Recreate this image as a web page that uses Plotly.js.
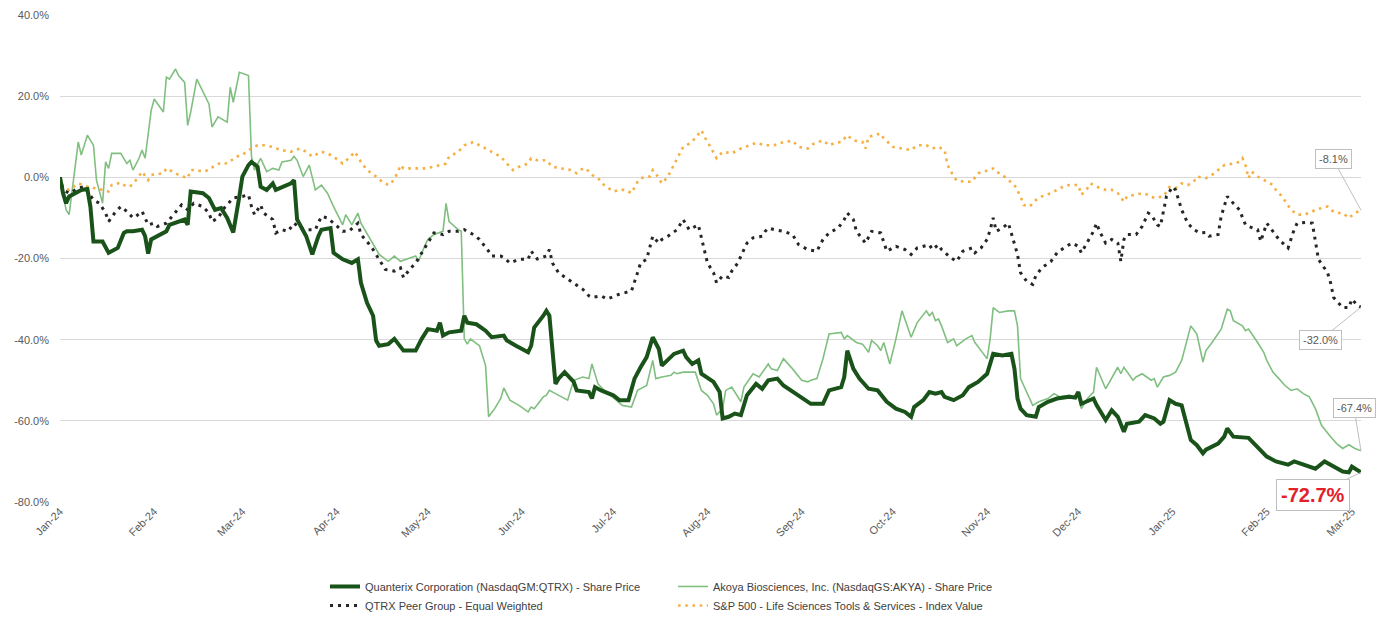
<!DOCTYPE html>
<html>
<head>
<meta charset="utf-8">
<script src="https://cdn.plot.ly/plotly-3.0.1.min.js"></script>
<style>
  html, body { margin: 0; padding: 0; background: #ffffff; }
  #chart { width: 1393px; height: 623px; }
</style>
</head>
<body>
<div id="chart"></div>
<script>
// ---------- DATA ----------
// x values are calendar days after START_DATE; y values are % change
const START_DATE = '2024-01-02';
const END_DAY = 428;

const seriesNames = [
  'Quanterix Corporation (NasdaqGM:QTRX) - Share Price',
  'Akoya Biosciences, Inc. (NasdaqGS:AKYA) - Share Price',
  'QTRX Peer Group - Equal Weighted',
  'S&P 500 - Life Sciences Tools & Services - Index Value'
];

const yTickVals = [-80, -60, -40, -20, 0, 20, 40];
const yTickText = ['-80.0%', '-60.0%', '-40.0%', '-20.0%', '0.0%', '20.0%', '40.0%'];

const qtrxDays = [0,1,2,3,5,7,9,10,11,14,16,19,21,22,24,27,28,29,30,32,35,36,39,41,42,43,47,49,51,53,55,57,59,60,62,63,65,66,68,70,71,76,77,78,81,83,85,86,89,90,93,96,98,99,101,103,104,105,108,110,113,117,119,121,124,125,126,128,132,133,134,137,140,142,146,147,150,154,155,156,159,160,161,163,164,166,169,170,174,175,176,178,182,184,187,189,191,193,195,197,198,200,202,205,206,208,210,211,215,217,218,220,222,224,226,229,231,233,236,238,242,244,247,251,253,257,258,259,261,263,266,269,272,275,278,280,281,284,286,288,290,291,293,294,297,299,302,305,307,310,313,314,315,316,318,321,322,325,328,332,334,335,336,340,341,344,346,348,350,351,355,357,360,362,363,365,367,369,372,374,376,377,381,383,384,386,391,394,396,397,400,404,406,409,413,416,418,422,424,425,428];
const qtrxPct = [0,-3.9,-6.4,-4.7,-3.9,-3.1,-2.9,-7.2,-15.8,-15.8,-18.6,-17.4,-13.7,-13.3,-13.3,-12.9,-14.5,-18.8,-15.3,-14.5,-13.3,-11.7,-10.9,-10.4,-11.7,-3.5,-3.9,-5.1,-8.0,-7.6,-10.0,-13.6,-4.7,0.2,3.0,3.8,2.6,-2.3,-3.1,-1.5,-3.1,-1.5,-0.7,-10.4,-14.5,-19.0,-14.5,-12.9,-12.5,-18.6,-20.2,-21.1,-20.2,-26.0,-30.9,-34.1,-40.2,-41.5,-41.1,-39.8,-42.7,-42.7,-39.8,-37.4,-37.8,-35.8,-39.0,-38.2,-37.8,-34.1,-35.8,-36.2,-37.8,-39.4,-39.0,-40.2,-41.5,-43.1,-41.5,-37.0,-34.1,-32.9,-34.1,-50.9,-49.6,-48.0,-50.4,-52.5,-52.9,-54.5,-51.7,-52.5,-53.7,-54.9,-54.9,-49.6,-46.8,-44.3,-39.4,-42.3,-46.4,-45.1,-43.5,-42.7,-44.3,-46.0,-45.1,-48.4,-50.4,-52.9,-59.4,-59.0,-58.2,-58.6,-53.7,-50.9,-52.1,-50.0,-49.6,-51.3,-53.3,-54.5,-55.8,-55.8,-52.5,-51.7,-49.2,-42.7,-47.2,-49.6,-52.1,-52.5,-55.3,-57.0,-57.8,-59.0,-56.6,-54.9,-52.9,-53.3,-52.9,-54.1,-54.5,-54.9,-53.7,-51.7,-50.4,-48.4,-43.5,-43.9,-43.5,-47.2,-54.5,-57.0,-58.6,-59.0,-56.6,-55.3,-54.5,-54.1,-54.3,-52.9,-55.8,-54.5,-56.1,-59.8,-57.4,-59.0,-62.7,-60.7,-60.2,-58.6,-59.4,-60.7,-60.2,-54.9,-55.8,-56.2,-64.7,-66.0,-68.0,-67.1,-65.6,-63.9,-61.9,-63.9,-64.2,-66.4,-68.0,-68.8,-70.0,-70.8,-70.0,-70.8,-71.8,-70.0,-70.8,-72.5,-72.7,-71.3,-72.7];

const akyaDays = [0,1,2,3,4,6,7,9,11,12,14,15,16,17,20,22,23,24,26,27,28,30,31,34,35,36,38,39,41,42,43,45,49,50,52,55,56,57,59,62,63,64,66,68,70,72,73,76,77,78,80,82,84,86,88,90,93,94,96,98,99,103,105,108,110,112,114,117,118,119,121,123,126,127,128,131,132,133,134,135,138,140,141,143,145,146,148,151,154,155,156,159,160,161,163,165,167,169,172,174,175,177,179,183,185,188,190,193,195,196,198,201,202,203,205,209,211,213,215,216,218,219,221,224,225,228,230,233,234,236,238,241,244,246,247,249,251,253,257,258,259,262,264,266,267,269,270,271,273,275,277,280,282,285,286,287,288,289,290,292,294,295,298,300,301,303,305,306,307,309,312,314,315,316,317,320,322,325,327,329,332,335,336,338,340,341,344,346,348,349,350,353,354,356,359,360,361,363,365,367,369,372,374,376,377,379,382,384,385,386,387,389,390,391,394,396,397,399,401,403,405,407,409,411,413,415,418,420,422,424,426,428];
const akyaPct = [0,-3.9,-8.0,-9.2,-3.1,8.7,5.5,10.4,7.9,-0.7,-6.4,3.8,2.2,5.9,5.9,3.4,4.2,1.8,4.7,6.7,4.7,16.5,19.3,16.1,24.7,24.2,26.7,25.1,23.4,12.8,16.1,24.2,18.1,12.4,14.9,13.6,22.2,18.5,25.9,25.1,5.1,1.8,4.7,1.4,2.2,1.8,3.8,4.2,5.2,4.2,0.2,3.0,-3.1,-1.9,-3.9,-7.2,-11.7,-9.2,-11.7,-8.8,-11.3,-16.2,-19.0,-20.7,-19.4,-20.7,-20.2,-19.4,-20.7,-18.6,-15.3,-14.1,-13.3,-6.4,-10.9,-12.9,-13.3,-39.8,-41.1,-39.8,-41.5,-46.4,-59.0,-57.0,-54.5,-51.9,-54.9,-56.2,-57.8,-56.6,-57.0,-54.1,-53.7,-52.5,-53.3,-54.1,-54.9,-50.0,-49.2,-49.6,-46.0,-50.9,-52.5,-54.9,-56.2,-56.6,-52.5,-51.3,-45.1,-49.6,-49.2,-48.8,-48.0,-48.4,-48.0,-48.0,-52.5,-53.7,-55.8,-58.6,-57.0,-52.5,-51.7,-55.3,-51.7,-48.4,-49.2,-46.0,-47.2,-47.6,-44.7,-47.2,-50.0,-50.4,-50.0,-49.6,-44.7,-38.6,-38.2,-39.8,-39.0,-40.7,-41.1,-43.1,-40.2,-41.5,-42.7,-40.7,-46.0,-39.8,-32.9,-39.4,-35.8,-32.9,-34.1,-33.3,-35.3,-34.9,-36.6,-40.7,-39.8,-41.5,-39.8,-39.0,-40.7,-42.7,-44.7,-39.8,-32.1,-33.3,-32.9,-32.9,-36.6,-49.6,-51.3,-56.2,-55.3,-54.5,-53.3,-54.1,-53.7,-54.1,-57.0,-54.5,-52.9,-46.8,-52.1,-49.6,-46.8,-48.4,-46.8,-50.0,-49.2,-48.4,-50.0,-49.6,-51.7,-49.2,-48.8,-48.0,-45.1,-36.6,-38.6,-45.5,-42.7,-40.7,-37.4,-32.5,-32.9,-35.3,-35.8,-36.6,-37.8,-37.4,-40.7,-43.1,-45.1,-48.0,-49.6,-51.3,-52.5,-52.1,-53.3,-54.1,-57.0,-61.1,-63.9,-65.6,-66.8,-65.9,-66.8,-67.4];

const peerDays = [0,1,3,6,8,11,13,15,16,18,20,22,24,25,27,28,29,31,32,35,36,38,40,42,44,47,49,50,52,54,55,57,60,62,63,64,66,67,70,71,73,75,77,79,81,84,86,88,90,93,95,98,99,101,103,105,107,110,112,113,115,117,119,121,123,126,128,131,133,136,138,141,142,145,146,148,151,154,155,157,160,161,162,164,168,172,174,175,178,180,184,188,190,191,193,195,197,198,200,203,205,207,210,212,213,215,216,218,220,221,223,224,225,226,228,231,232,233,235,238,241,243,246,249,251,253,256,258,259,261,262,265,267,270,272,275,278,280,282,286,287,289,290,293,295,297,300,301,303,305,306,307,308,310,312,313,315,316,318,320,321,323,326,328,331,333,335,336,338,340,341,342,344,346,348,349,350,351,354,356,358,359,361,362,364,366,367,369,371,373,375,377,378,381,382,384,386,388,390,391,394,395,397,399,401,404,406,407,410,412,413,414,417,418,419,422,424,425,427,428];
const peerPct = [0,-3.1,-3.9,-2.7,-2.3,-5.6,-6.4,-8.8,-10.9,-8.8,-7.2,-8.4,-10.0,-9.6,-8.4,-10.0,-11.7,-11.3,-12.1,-11.3,-10.4,-8.8,-6.8,-8.0,-6.4,-7.2,-8.8,-10.9,-10.0,-7.6,-6.8,-5.1,-4.7,-4.3,-7.2,-9.2,-6.8,-8.8,-10.4,-13.7,-12.9,-13.3,-11.3,-12.5,-12.9,-12.9,-9.6,-10.0,-11.3,-13.3,-13.3,-11.3,-14.1,-15.8,-17.8,-20.2,-22.7,-23.1,-22.3,-24.7,-22.7,-21.1,-18.6,-16.2,-13.7,-14.1,-13.3,-13.3,-12.9,-14.1,-15.3,-18.2,-19.4,-19.4,-19.8,-21.1,-20.2,-20.2,-18.2,-20.1,-19.4,-17.8,-21.1,-23.5,-25.6,-27.6,-29.2,-29.6,-29.2,-30.0,-28.8,-28.0,-23.5,-21.1,-20.2,-14.5,-16.2,-15.3,-14.5,-12.9,-10.4,-12.9,-11.7,-17.8,-21.1,-23.5,-26.0,-24.3,-24.7,-23.1,-21.1,-19.4,-17.8,-16.2,-14.9,-14.5,-13.3,-12.5,-12.9,-13.3,-14.1,-16.6,-17.8,-18.2,-15.3,-13.7,-12.5,-10.4,-8.8,-10.4,-13.3,-16.2,-13.3,-13.7,-18.2,-17.0,-17.8,-19.0,-17.4,-16.6,-17.8,-16.6,-17.8,-19.8,-20.7,-18.2,-17.4,-18.6,-17.4,-15.3,-12.9,-10.0,-13.3,-12.5,-11.3,-14.1,-19.0,-23.5,-25.6,-26.4,-24.3,-22.3,-20.7,-18.6,-17.0,-16.2,-17.0,-18.6,-15.8,-13.3,-11.3,-13.3,-16.2,-15.3,-16.2,-20.7,-15.3,-14.1,-14.1,-12.1,-8.8,-9.2,-11.7,-12.1,-4.7,-2.3,-3.1,-8.0,-11.3,-12.9,-13.7,-13.6,-14.5,-14.1,-9.6,-4.7,-6.4,-8.0,-11.7,-12.1,-12.9,-15.8,-11.3,-13.3,-15.3,-17.4,-12.9,-11.3,-11.1,-11.3,-16.2,-20.2,-23.5,-26.0,-29.6,-32.1,-32.1,-30.0,-31.7,-32.0];

const spDays = [0,1,3,6,9,12,14,16,17,20,21,23,25,27,29,30,34,35,37,39,42,43,45,47,49,51,53,55,58,60,62,65,67,70,71,73,76,77,79,81,83,86,88,90,93,95,97,99,101,104,106,108,109,111,112,113,117,120,123,127,128,131,133,136,138,141,144,145,147,149,151,154,155,157,160,162,165,168,170,172,173,175,177,179,182,184,186,188,190,191,194,195,196,198,200,202,205,207,209,211,212,214,216,218,221,224,226,229,232,235,238,241,243,246,248,251,253,255,257,259,261,264,265,266,268,270,271,274,277,280,282,285,287,289,291,292,294,295,298,300,302,304,307,308,310,312,314,316,317,319,321,323,326,328,330,332,335,336,338,339,341,344,346,348,350,351,354,356,358,360,363,364,365,367,369,371,373,374,377,379,381,383,386,388,389,390,391,392,394,397,399,400,402,405,407,409,411,413,415,417,418,420,422,424,426,428];
const spPct = [0,-2.3,-3.1,-1.5,-2.3,-2.7,-3.1,-3.5,-1.9,-1.3,-1.9,-2.3,-0.7,1.4,-0.7,0.6,1.0,2.2,1.4,0.6,-0.2,1.8,1.8,1.4,1.8,3.0,3.6,3.4,5.1,5.5,6.7,7.9,7.9,7.5,7.1,6.7,6.3,6.7,7.1,6.3,5.1,6.3,5.9,5.1,3.4,4.7,6.3,3.8,1.8,0.2,-1.1,-1.9,-1.5,1.0,3.0,2.2,2.2,2.2,2.6,3.4,5.1,6.3,7.9,8.7,7.9,6.7,5.5,5.1,3.4,1.8,2.6,3.4,4.7,4.2,4.2,2.6,2.2,1.8,1.0,2.2,2.2,0.6,-0.2,-1.9,-3.5,-3.1,-3.1,-3.9,-1.1,-0.2,0.2,1.8,1.0,-1.5,0.2,3.0,7.5,8.3,9.6,11.6,10.0,7.5,4.7,6.3,5.9,7.1,7.7,8.5,7.9,7.9,8.7,9.0,7.5,7.1,8.3,9.1,7.9,8.5,8.7,10.4,9.1,8.7,7.1,10.0,10.4,10.8,9.6,7.5,7.1,6.7,7.9,7.9,7.1,7.5,6.7,3.0,0.2,-0.8,-1.1,-1.1,1.0,1.4,2.2,1.4,0.6,-0.7,-1.9,-4.7,-6.8,-7.2,-5.6,-4.7,-3.9,-3.1,-2.3,-1.9,-1.9,-4.3,-2.7,-1.5,-2.3,-3.1,-3.1,-3.9,-6.0,-4.7,-4.3,-3.9,-4.3,-5.1,-4.7,-3.5,-2.4,-2.7,-1.5,-1.9,-1.1,0.2,-0.2,0.6,1.8,3.0,3.4,3.8,4.7,3.0,-0.2,1.4,0.2,-1.1,-1.9,-3.1,-4.7,-8.0,-9.2,-9.2,-8.8,-8.0,-7.6,-7.2,-8.0,-8.8,-8.8,-10.0,-8.8,-8.1];

const endLabels = ['-72.7%', '-67.4%', '-32.0%', '-8.1%'];
const endValues = [-72.7, -67.4, -32.0, -8.1];

// ---------- helpers ----------
const startMs = Date.parse(START_DATE + 'T00:00:00Z');
function toDate(d) {
  return new Date(startMs + d * 86400000).toISOString().slice(0, 10);
}
const endDate = toDate(END_DAY);

const FONT = 'Liberation Sans, Arial, sans-serif';

function mk(days, pct, idx, line, legendId) {
  const n = Math.min(days.length, pct.length);
  return {
    type: 'scatter', mode: 'lines',
    x: days.slice(0, n).map(toDate), y: pct.slice(0, n),
    name: seriesNames[idx], line: line,
    legend: legendId, legendgroup: 'g' + idx,
    hoverinfo: 'skip'
  };
}

const traces = [
  mk(akyaDays, akyaPct, 1, {color: '#80bf80', width: 1.6}, 'legend2'),
  mk(spDays, spPct, 3, {color: '#f4b042', width: 2.6, dash: '2.6px,4.6px'}, 'legend2'),
  mk(peerDays, peerPct, 2, {color: '#262626', width: 3, dash: '3px,5px'}, 'legend'),
  mk(qtrxDays, qtrxPct, 0, {color: '#1a531a', width: 4}, 'legend')
];
// legend ordering: Quanterix above Peer, Akoya above S&P
traces[3].legendrank = 1; traces[2].legendrank = 2;
traces[0].legendrank = 1; traces[1].legendrank = 2;

const boxStyle = {
  bordercolor: '#bfbfbf', borderwidth: 1, bgcolor: '#ffffff', borderpad: 3,
  showarrow: true, arrowhead: 0, arrowwidth: 1, arrowcolor: '#bfbfbf',
  xref: 'x', yref: 'y', axref: 'pixel', ayref: 'pixel'
};
const annotations = [
  Object.assign({}, boxStyle, {x: endDate, y: endValues[3], text: endLabels[3], ax: -28, ay: -51,
    font: {family: FONT, size: 11, color: '#595959'}}),
  Object.assign({}, boxStyle, {x: endDate, y: endValues[2], text: endLabels[2], ax: -41, ay: 33,
    font: {family: FONT, size: 11, color: '#595959'}}),
  Object.assign({}, boxStyle, {x: endDate, y: endValues[1], text: endLabels[1], ax: -7, ay: -43,
    font: {family: FONT, size: 11, color: '#595959'}}),
  Object.assign({}, boxStyle, {x: endDate, y: endValues[0], text: '<b>' + endLabels[0] + '</b>', ax: -48, ay: 23,
    borderpad: 4, font: {family: FONT, size: 20, color: '#e3202a'}})
];

const legendCommon = {
  orientation: 'v', xanchor: 'left', yanchor: 'top',
  font: {family: FONT, size: 11, color: '#404040'},
  bgcolor: 'rgba(0,0,0,0)', borderwidth: 0, tracegroupgap: 4,
  traceorder: 'normal'
};

const layout = {
  width: 1393, height: 623,
  paper_bgcolor: '#ffffff', plot_bgcolor: '#ffffff',
  margin: {l: 60, r: 32, t: 15, b: 121, autoexpand: false},
  font: {family: FONT, size: 11, color: '#595959'},
  showlegend: true,
  xaxis: {
    type: 'date', range: [START_DATE, endDate],
    tickmode: 'linear', tick0: START_DATE, dtick: 'M1', tickformat: '%b-%y',
    tickangle: -45, showgrid: false, zeroline: false, showline: false, ticks: '',
    tickfont: {family: FONT, size: 11, color: '#595959'}
  },
  yaxis: {
    range: [-80, 40], tickmode: 'array', tickvals: yTickVals, ticktext: yTickText,
    gridcolor: '#d9d9d9', gridwidth: 1, zeroline: false, showline: false, ticks: '',
    ticklabelstandoff: 10,
    tickfont: {family: FONT, size: 11, color: '#595959'}
  },
  legend: Object.assign({}, legendCommon, {x: 0.2037, y: -0.1437}),
  legend2: Object.assign({}, legendCommon, {x: 0.4712, y: -0.1437}),
  annotations: annotations
};

Plotly.newPlot('chart', traces, layout, {staticPlot: true, displayModeBar: false});
</script>
</body>
</html>
